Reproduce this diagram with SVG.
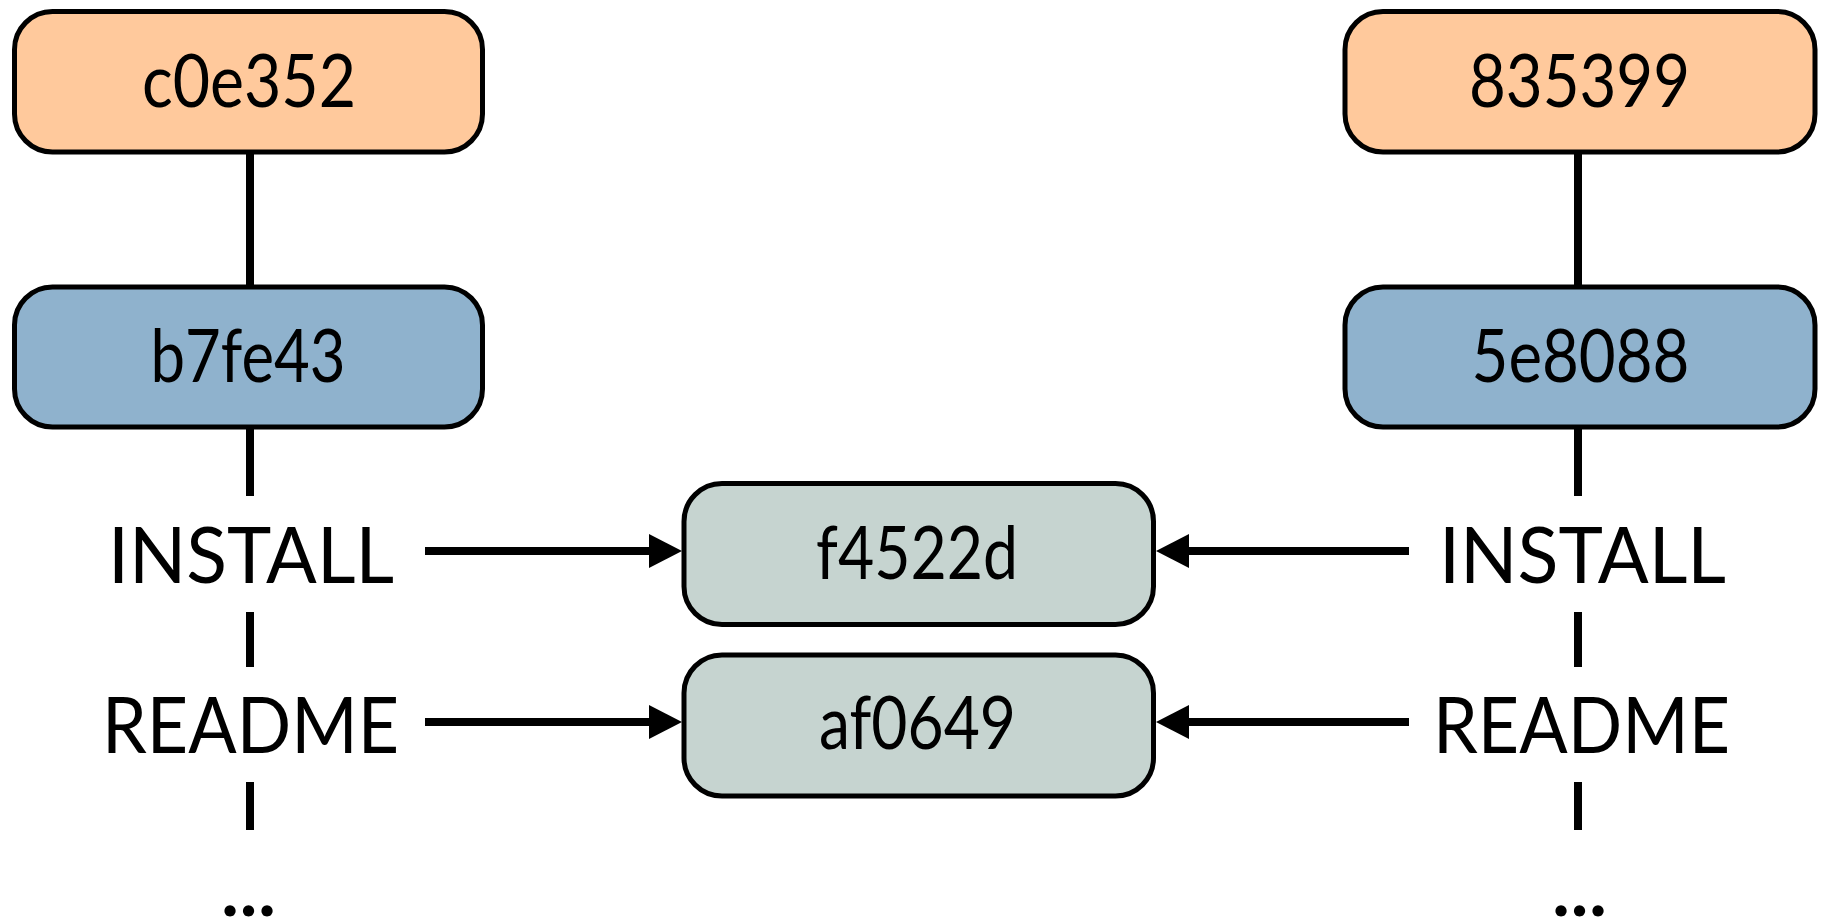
<svg xmlns="http://www.w3.org/2000/svg" width="1821" height="922" viewBox="0 0 1821 922">
<style>
  .box { stroke: #000; stroke-width: 5; }
  .commit { fill: #FFC99C; }
  .tree { fill: #8FB2CD; }
  .blob { fill: #C6D4D0; }
  .t { font-family: Lato, "Liberation Sans", sans-serif; fill: #000; text-anchor: middle; }
  .h { font-size: 73px; }
  .lbl { font-size: 78px; }
  .dots { font-size: 74px; font-weight: bold; }
  .ln { stroke: #000; stroke-width: 8; fill: none; }
</style>
<defs>
  <marker id="arr" markerUnits="userSpaceOnUse" markerWidth="34" markerHeight="36" refX="3" refY="17" orient="auto">
    <path d="M0,0 L33,17 L0,34 Z" fill="#000"/>
  </marker>
</defs>
<rect width="1821" height="922" fill="#fff"/>

<g id="connectors">
  <line class="ln" x1="250" y1="152" x2="250" y2="287"/>
  <line class="ln" x1="250" y1="427" x2="250" y2="496"/>
  <line class="ln" x1="250" y1="612" x2="250" y2="667"/>
  <line class="ln" x1="250" y1="782" x2="250" y2="830"/>
  <line class="ln" x1="1578" y1="152" x2="1578" y2="287"/>
  <line class="ln" x1="1578" y1="427" x2="1578" y2="496"/>
  <line class="ln" x1="1578" y1="612" x2="1578" y2="667"/>
  <line class="ln" x1="1578" y1="782" x2="1578" y2="830"/>
  <line class="ln" x1="425" y1="551" x2="652" y2="551" marker-end="url(#arr)"/>
  <line class="ln" x1="425" y1="722" x2="652" y2="722" marker-end="url(#arr)"/>
  <line class="ln" x1="1409" y1="551" x2="1186" y2="551" marker-end="url(#arr)"/>
  <line class="ln" x1="1409" y1="722" x2="1186" y2="722" marker-end="url(#arr)"/>
</g>

<g id="node-c0e352">
  <rect class="box commit" x="14.5" y="11.5" width="468" height="140.5" rx="38"/>
  <text class="t h" x="249" y="107" textLength="214" lengthAdjust="spacingAndGlyphs">c0e352</text>
</g>
<g id="node-b7fe43">
  <rect class="box tree" x="14.5" y="287" width="468" height="140" rx="38"/>
  <text class="t h" x="248" y="382" textLength="195" lengthAdjust="spacingAndGlyphs">b7fe43</text>
</g>
<g id="node-835399">
  <rect class="box commit" x="1345" y="11.5" width="470" height="140.5" rx="38"/>
  <text class="t h" x="1579.5" y="107" textLength="221" lengthAdjust="spacingAndGlyphs">835399</text>
</g>
<g id="node-5e8088">
  <rect class="box tree" x="1345" y="287" width="470" height="140" rx="38"/>
  <text class="t h" x="1580.5" y="382" textLength="218" lengthAdjust="spacingAndGlyphs">5e8088</text>
</g>
<g id="node-f4522d">
  <rect class="box blob" x="684" y="483.5" width="469.5" height="141" rx="38"/>
  <text class="t h" x="917" y="579" textLength="202" lengthAdjust="spacingAndGlyphs">f4522d</text>
</g>
<g id="node-af0649">
  <rect class="box blob" x="684" y="655" width="469.5" height="141" rx="38"/>
  <text class="t h" x="917.5" y="749" textLength="197" lengthAdjust="spacingAndGlyphs">af0649</text>
</g>

<g id="labels-left">
  <text class="t lbl" x="251" y="583" textLength="286" lengthAdjust="spacingAndGlyphs">INSTALL</text>
  <text class="t lbl" x="250.5" y="753" textLength="297" lengthAdjust="spacingAndGlyphs">README</text>
  <text class="t dots" x="249" y="916" letter-spacing="1">...</text>
</g>
<g id="labels-right">
  <text class="t lbl" x="1582.5" y="583" textLength="287" lengthAdjust="spacingAndGlyphs">INSTALL</text>
  <text class="t lbl" x="1581.5" y="753" textLength="297" lengthAdjust="spacingAndGlyphs">README</text>
  <text class="t dots" x="1580" y="916" letter-spacing="1">...</text>
</g>
</svg>
